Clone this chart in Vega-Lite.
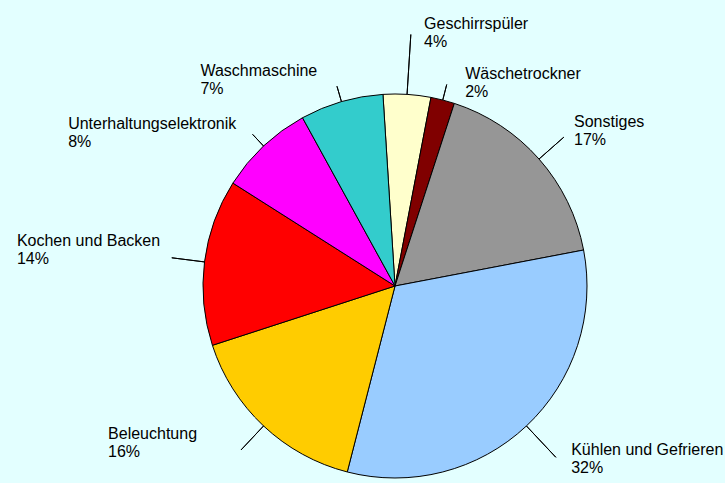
{
  "$schema": "https://vega.github.io/schema/vega-lite/v6.json",
  "autosize": {"type": "none"},
  "width": 660,
  "height": 394,
  "padding": {"left": 65, "top": 89, "right": 0, "bottom": 0},
  "background": "#e3ffff",
  "config": {"view": {"stroke": null}},
  "data": {
    "values": [
      {"name": "Geschirrspüler", "value": 4, "order": 1, "label": "Geschirrspüler\n4%"},
      {"name": "Wäschetrockner", "value": 2, "order": 2, "label": "Wäschetrockner\n2%"},
      {"name": "Sonstiges", "value": 17, "order": 3, "label": "Sonstiges\n17%"},
      {"name": "Kühlen und Gefrieren", "value": 32, "order": 4, "label": "Kühlen und Gefrieren\n32%"},
      {"name": "Beleuchtung", "value": 16, "order": 5, "label": "Beleuchtung\n16%"},
      {"name": "Kochen und Backen", "value": 14, "order": 6, "label": "Kochen und Backen\n14%"},
      {"name": "Unterhaltungselektronik", "value": 8, "order": 7, "label": "Unterhaltungselektronik\n8%"},
      {"name": "Waschmaschine", "value": 7, "order": 8, "label": "Waschmaschine\n7%"}
    ]
  },
  "encoding": {
    "theta": {"field": "value", "type": "quantitative", "stack": true, "scale": {"range": [-0.0628, 6.2204]}},
    "order": {"field": "order", "type": "quantitative", "sort": "ascending"}
  },
  "layer": [
    {
      "mark": {"type": "arc", "outerRadius": 192, "stroke": "black", "strokeWidth": 1},
      "encoding": {
        "color": {
          "field": "name", "type": "nominal", "legend": null,
          "scale": {
            "domain": ["Geschirrspüler", "Wäschetrockner", "Sonstiges", "Kühlen und Gefrieren", "Beleuchtung", "Kochen und Backen", "Unterhaltungselektronik", "Waschmaschine"],
            "range": ["#ffffcc", "#800000", "#969696", "#99ccff", "#ffcc00", "#ff0000", "#ff00ff", "#33cccc"]
          }
        }
      }
    },
    {
      "mark": {"type": "arc", "innerRadius": 192, "outerRadius": 208, "padAngle": 3, "fill": null, "stroke": "black", "strokeWidth": 1},
      "encoding": {"strokeOpacity": {"condition": {"test": "datum.order == 2 || datum.order == 7 || datum.order == 8", "value": 1}, "value": 0}}
    },
    {
      "mark": {"type": "arc", "innerRadius": 192, "outerRadius": 225, "padAngle": 3, "fill": null, "stroke": "black", "strokeWidth": 1},
      "encoding": {"strokeOpacity": {"condition": {"test": "datum.order == 3 || datum.order == 5 || datum.order == 6", "value": 1}, "value": 0}}
    },
    {
      "mark": {"type": "arc", "innerRadius": 192, "outerRadius": 235, "padAngle": 3, "fill": null, "stroke": "black", "strokeWidth": 1},
      "encoding": {"strokeOpacity": {"condition": {"test": "datum.order == 4", "value": 1}, "value": 0}}
    },
    {
      "mark": {"type": "arc", "innerRadius": 192, "outerRadius": 252, "padAngle": 3, "fill": null, "stroke": "black", "strokeWidth": 1},
      "encoding": {"strokeOpacity": {"condition": {"test": "datum.order == 1", "value": 1}, "value": 0}}
    },
    {
      "mark": {"type": "text", "radius": 272, "dx": 12, "dy": 1, "align": "left", "baseline": "top", "lineBreak": "\n", "font": "Liberation Sans", "fontSize": 16, "lineHeight": 18, "color": "black"},
      "encoding": {"text": {"field": "label", "type": "nominal", "condition": {"test": "datum.order != 1", "value": ""}}}
    },
    {
      "mark": {"type": "text", "radius": 230, "dx": 13, "dy": 3, "align": "left", "baseline": "top", "lineBreak": "\n", "font": "Liberation Sans", "fontSize": 16, "lineHeight": 18, "color": "black"},
      "encoding": {"text": {"field": "label", "type": "nominal", "condition": {"test": "datum.order != 2", "value": ""}}}
    },
    {
      "mark": {"type": "text", "radius": 248, "dx": -7, "dy": -8, "align": "left", "baseline": "top", "lineBreak": "\n", "font": "Liberation Sans", "fontSize": 16, "lineHeight": 18, "color": "black"},
      "encoding": {"text": {"field": "label", "type": "nominal", "condition": {"test": "datum.order != 3", "value": ""}}}
    },
    {
      "mark": {"type": "text", "radius": 234, "dx": 16, "dy": -15, "align": "left", "baseline": "top", "lineBreak": "\n", "font": "Liberation Sans", "fontSize": 16, "lineHeight": 18, "color": "black"},
      "encoding": {"text": {"field": "label", "type": "nominal", "condition": {"test": "datum.order != 4", "value": ""}}}
    },
    {
      "mark": {"type": "text", "radius": 238, "dx": -124, "dy": -33, "align": "left", "baseline": "top", "lineBreak": "\n", "font": "Liberation Sans", "fontSize": 16, "lineHeight": 18, "color": "black"},
      "encoding": {"text": {"field": "label", "type": "nominal", "condition": {"test": "datum.order != 5", "value": ""}}}
    },
    {
      "mark": {"type": "text", "radius": 238, "dx": -142, "dy": -23, "align": "left", "baseline": "top", "lineBreak": "\n", "font": "Liberation Sans", "fontSize": 16, "lineHeight": 18, "color": "black"},
      "encoding": {"text": {"field": "label", "type": "nominal", "condition": {"test": "datum.order != 6", "value": ""}}}
    },
    {
      "mark": {"type": "text", "radius": 235, "dx": -166, "dy": 1, "align": "left", "baseline": "top", "lineBreak": "\n", "font": "Liberation Sans", "fontSize": 16, "lineHeight": 18, "color": "black"},
      "encoding": {"text": {"field": "label", "type": "nominal", "condition": {"test": "datum.order != 7", "value": ""}}}
    },
    {
      "mark": {"type": "text", "radius": 235, "dx": -129, "dy": 3, "align": "left", "baseline": "top", "lineBreak": "\n", "font": "Liberation Sans", "fontSize": 16, "lineHeight": 18, "color": "black"},
      "encoding": {"text": {"field": "label", "type": "nominal", "condition": {"test": "datum.order != 8", "value": ""}}}
    }
  ]
}
